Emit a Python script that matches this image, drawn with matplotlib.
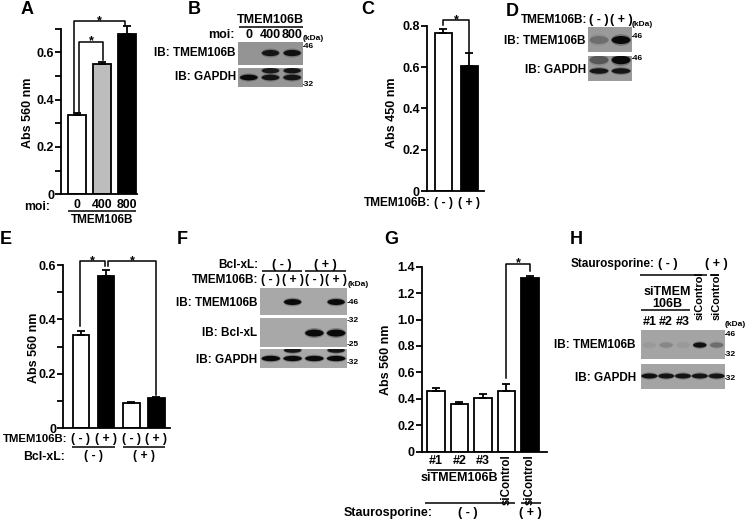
import numpy as np
import matplotlib
matplotlib.use('Agg')
import matplotlib.pyplot as plt
from matplotlib.patches import Ellipse

W, H = 745, 523
plt.rcParams['font.family'] = ['Liberation Sans', 'DejaVu Sans']
plt.rcParams['font.weight'] = 'bold'
plt.rcParams['axes.linewidth'] = 1.3

# ---- data ----
a_moi = ['0', '400', '800']
a_abs = [0.335, 0.549, 0.677]
a_err = [0.007, 0.011, 0.035]
a_colors = ['white', '#bdbdbd', 'black']

b_lanes = ['0', '400', '800']
b_tmem = [0.0, 0.9, 0.95]
b_gapdh_up = [0.0, 0.85, 0.9]
b_gapdh = [1.0, 0.9, 0.9]

c_groups = ['( - )', '( + )']
c_abs = [0.763, 0.606]
c_err = [0.021, 0.060]

d_lanes = ['( - )', '( + )']
d_tmem = [0.25, 1.0]
d_gapdh_up = [0.4, 1.0]
d_gapdh = [0.9, 0.9]

e_tmem = ['( - )', '( + )', '( - )', '( + )']
e_bcl = ['( - )', '( + )']
e_abs = [0.343, 0.561, 0.093, 0.111]
e_err = [0.015, 0.022, 0.002, 0.003]
e_colors = ['white', 'black', 'white', 'black']

f_lanes = ['( - )', '( + )', '( - )', '( + )']
f_tmem = [0.0, 1.0, 0.0, 1.0]
f_bclxl = [0.0, 0.0, 1.0, 1.0]
f_gapdh_up = [0.0, 0.9, 0.0, 0.9]
f_gapdh = [1.0, 1.0, 1.0, 1.0]

g_labels = ['#1', '#2', '#3', 'siControl', 'siControl']
g_abs = [0.458, 0.358, 0.408, 0.458, 1.313]
g_err = [0.025, 0.019, 0.032, 0.058, 0.013]
g_colors = ['white', 'white', 'white', 'white', 'black']

h_lanes = ['#1', '#2', '#3', 'siControl', 'siControl']
h_tmem = [0.05, 0.15, 0.05, 0.95, 0.3]
h_gapdh = [0.95, 0.9, 0.9, 0.9, 0.9]

fig = plt.figure(figsize=(W / 100, H / 100), dpi=100)

ov = fig.add_axes([0, 0, 1, 1])
ov.set_xlim(0, W)
ov.set_ylim(H, 0)
ov.axis('off')


def px_axes(x0, y0, x1, y1):
    return fig.add_axes([x0 / W, 1 - y1 / H, (x1 - x0) / W, (y1 - y0) / H])


def ay(ax, ypix):
    b = ax.get_position()
    return ((1 - ypix / H) - b.y0) / b.height


def txt(ax, x, ypix, s, size=8.5, **kw):
    kw.setdefault('ha', 'center')
    kw.setdefault('va', 'center')
    ax.text(x, ay(ax, ypix), s, transform=ax.get_xaxis_transform(),
            fontsize=size, fontweight='bold', clip_on=False, **kw)


def otxt(x, y, s, size=8.5, **kw):
    kw.setdefault('ha', 'center')
    kw.setdefault('va', 'center')
    ov.text(x, y, s, fontsize=size, fontweight='bold', **kw)


def hline(ax, xa, xb, ypix, lw=1.1):
    y = ay(ax, ypix)
    ax.plot([xa, xb], [y, y], transform=ax.get_xaxis_transform(), color='black',
            lw=lw, clip_on=False, solid_capstyle='butt')


def bar_panel(box, vals, errs, colors, width, xlim, ymax, step, labels):
    ax = px_axes(*box)
    x = np.arange(len(vals))
    ax.bar(x, vals, width, color=colors, edgecolor='black', linewidth=1.3, zorder=2)
    ax.errorbar(x, vals, yerr=[np.zeros(len(vals)), errs], fmt='none', ecolor='black',
                elinewidth=1.3, capsize=3.2, capthick=1.3, zorder=3, clip_on=False)
    ax.set_xlim(*xlim)
    ax.set_ylim(0, ymax)
    ax.set_yticks(np.arange(0, ymax + step / 2, step))
    ax.set_yticklabels(labels)
    ax.tick_params(axis='y', length=4, width=1.3, labelsize=9, pad=1)
    ax.set_xticks([])
    ax.spines[['top', 'right']].set_visible(False)
    ax.patch.set_alpha(0)
    return ax


def bracket(ax, x1, x2, y1, top, y2):
    ax.plot([x1, x1, x2, x2], [y1, top, top, y2], color='black', lw=1.1,
            clip_on=False, zorder=4)
    ax.text((x1 + x2) / 2, top, '*', ha='center', va='center', fontsize=9,
            fontweight='bold', clip_on=False)


def blot(box, rows, bg):
    n = len(rows[0][0])
    ax = px_axes(*box)
    ax.set_xlim(0.5, n + 0.5)
    ax.set_ylim(0, 1)
    ax.set_facecolor(bg)
    ax.set_xticks([])
    ax.set_yticks([])
    for s in ax.spines.values():
        s.set_visible(False)
    for inten, yc, hb, wb in rows:
        for i, v in enumerate(inten):
            if v <= 0:
                continue
            ax.add_patch(Ellipse((i + 1, yc), wb * 1.08, hb * 1.45, color='#202020',
                                 alpha=v * 0.3, lw=0))
            ax.add_patch(Ellipse((i + 1, yc), wb, hb, color='#0a0a0a',
                                 alpha=v, lw=0))
    return ax


# ---------------- A ----------------
ax = bar_panel((61, 28.6, 137, 194.3), a_abs, a_err, a_colors, 0.72, (-0.64, 2.4),
               0.7, 0.1, ['0', '', '0.2', '', '0.4', '', '0.6', ''])
bracket(ax, 0.09, 1.03, 0.349, 0.645, 0.567)
bracket(ax, -0.12, 1.92, 0.349, 0.733, 0.715)
for i, s in enumerate(a_moi):
    txt(ax, i, 205, s, size=8.8)
otxt(37, 206.5, 'moi:', size=8.8)
hline(ax, -0.36, 2.36, 211)
txt(ax, 1, 219.5, 'TMEM106B')
otxt(28, 113, 'Abs 560 nm', size=9, rotation=90)

# ---------------- B ----------------
b1 = blot((238, 42, 303, 65), [(b_tmem, 0.52, 0.27, 0.8)], '#949494')
b2 = blot((238, 68, 303, 87), [(b_gapdh_up, 0.86, 0.28, 0.8),
                               (b_gapdh, 0.5, 0.3, 0.82)], '#969696')
txt(b1, 2, 20, 'TMEM106B', size=9)
hline(b1, 0.55, 3.5, 26.5)
otxt(235, 35, 'moi:', size=9, ha='right')
for i, s in enumerate(b_lanes):
    txt(b1, i + 1, 35, s, size=9)
otxt(303, 39, '(kDa)', size=6, ha='left')
otxt(302, 46, '-46', size=6, ha='left')
otxt(302, 84, '-32', size=6, ha='left')
otxt(236, 53, 'IB: TMEM106B', ha='right')
otxt(236, 77, 'IB: GAPDH', ha='right')

# ---------------- C ----------------
ax = bar_panel((426.7, 25.7, 484, 191), c_abs, c_err, ['white', 'black'], 0.65,
               (-0.64, 1.57), 0.8, 0.2, ['0', '0.2', '0.4', '0.6', '0.8'])
bracket(ax, 0.0, 0.99, 0.803, 0.827, 0.674)
for i, s in enumerate(c_groups):
    txt(ax, i, 203, s, size=8.8)
otxt(431, 203.5, 'TMEM106B:', size=8.6, ha='right')
otxt(392, 113, 'Abs 450 nm', size=9, rotation=90)

# ---------------- D ----------------
d1 = blot((588, 27, 632, 52), [(d_tmem, 0.48, 0.32, 0.85)], '#9a9a9a')
d2 = blot((588, 56, 632, 81), [(d_gapdh_up, 0.84, 0.34, 0.85),
                               (d_gapdh, 0.4, 0.22, 0.85)], '#9a9a9a')
otxt(587, 20, 'TMEM106B:', ha='right')
for i, s in enumerate(d_lanes):
    txt(d1, i + 1, 20, s, size=9)
otxt(632, 25, '(kDa)', size=6, ha='left')
otxt(631, 37, '-46', size=6, ha='left')
otxt(631, 58, '-46', size=6, ha='left')
otxt(586, 41, 'IB: TMEM106B', ha='right')
otxt(586, 70, 'IB: GAPDH', ha='right')

# ---------------- E ----------------
ax = bar_panel((63.3, 265, 170, 428.3), e_abs, e_err, e_colors, 0.67, (-0.706, 3.55),
               0.6, 0.1, ['0', '', '0.2', '', '0.4', '', '0.6'])
bracket(ax, -0.04, 0.96, 0.377, 0.615, 0.595)
bracket(ax, 1.08, 3.0, 0.595, 0.615, 0.123)
for i, s in enumerate(e_tmem):
    txt(ax, i, 439, s, size=8.8)
hline(ax, -0.34, 1.34, 447.5)
hline(ax, 1.66, 3.34, 447.5)
for i, s in enumerate(e_bcl):
    txt(ax, 2 * i + 0.5, 456.5, s, size=8.8)
otxt(67, 439.5, 'TMEM106B:', size=8.2, ha='right')
otxt(65, 456.5, 'Bcl-xL:', size=8.8, ha='right')
otxt(34, 348, 'Abs 560 nm', size=9, rotation=90)

# ---------------- F ----------------
f1 = blot((260, 288, 347, 315), [(f_tmem, 0.48, 0.22, 0.8)], '#a8a8a8')
f2 = blot((260, 318, 347, 347), [(f_bclxl, 0.48, 0.24, 0.85)], '#a8a8a8')
f3 = blot((260, 349, 347, 368), [(f_gapdh_up, 0.93, 0.26, 0.8),
                                 (f_gapdh, 0.5, 0.28, 0.85)], '#a8a8a8')
otxt(258, 265, 'Bcl-xL:', ha='right')
otxt(258, 280, 'TMEM106B:', ha='right')
for i, s in enumerate(e_bcl):
    txt(f1, 2 * i + 1.5, 265, s, size=9)
hline(f1, 0.6, 2.45, 270.5)
hline(f1, 2.55, 4.45, 270.5)
for i, s in enumerate(f_lanes):
    txt(f1, i + 1, 280, s, size=8.8)
otxt(348, 285, '(kDa)', size=6, ha='left')
for yy, s in [(302, '-46'), (320, '-32'), (344, '-25'), (363, '-32')]:
    otxt(347, yy, s, size=6, ha='left')
otxt(257, 303, 'IB: TMEM106B', ha='right')
otxt(257, 333, 'IB: Bcl-xL', ha='right')
otxt(257, 360, 'IB: GAPDH', ha='right')

# ---------------- G ----------------
ax = bar_panel((421.7, 266.7, 547, 451.7), g_abs, g_err, g_colors, 0.74, (-0.6, 4.72),
               1.4, 0.2, ['0', '0.2', '0.4', '0.6', '0.8', '1.0', '1.2', '1.4'])
bracket(ax, 3.0, 4.0, 0.555, 1.424, 1.37)
for i, s in enumerate(g_labels):
    if s.startswith('#'):
        txt(ax, i, 461, s, size=9)
    else:
        txt(ax, i, 454, s, size=8.3, rotation=90, va='top')
hline(ax, -0.37, 2.37, 469.5)
txt(ax, 1, 478, 'siTMEM106B', size=9)
hline(ax, -0.45, 3.37, 503)
hline(ax, 3.6, 4.45, 503)
txt(ax, 1.37, 513, '( - )', size=9)
txt(ax, 4, 513, '( + )', size=9)
otxt(433, 513, 'Staurosporine:', size=9, ha='right')
otxt(386, 360, 'Abs 560 nm', size=9, rotation=90)

# ---------------- H ----------------
h1 = blot((641, 330, 725, 359), [(h_tmem, 0.48, 0.18, 0.8)], '#a4a4a4')
h2 = blot((641, 364, 725, 389), [(h_gapdh, 0.52, 0.2, 0.95)], '#a4a4a4')
otxt(655, 264, 'Staurosporine:', ha='right')
txt(h1, 2.1, 264, '( - )', size=9)
txt(h1, 5.0, 264, '( + )', size=9)
hline(h1, 0.44, 4.43, 275)
hline(h1, 4.6, 5.14, 275)
txt(h1, 2.04, 298, 'siTMEM\n106B', size=9, linespacing=0.95)
hline(h1, 0.5, 3.42, 310)
for i, s in enumerate(h_lanes):
    if s.startswith('#'):
        txt(h1, i + 1, 322, s, size=9)
    else:
        txt(h1, i + 1, 320, s, size=7.9, rotation=90, va='bottom')
otxt(725, 325, '(kDa)', size=6, ha='left')
for yy, s in [(335, '-46'), (355, '-32'), (378, '-32')]:
    otxt(724, yy, s, size=6, ha='left')
otxt(636, 345, 'IB: TMEM106B', ha='right')
otxt(636, 378, 'IB: GAPDH', ha='right')

# panel letters
for s, x, y in [('A', 27, 10), ('B', 194, 9), ('C', 368, 9), ('D', 512, 12),
                ('E', 6, 240), ('F', 182, 240), ('G', 391, 240), ('H', 576, 240)]:
    otxt(x, y, s, size=13)

fig.savefig('out.png', dpi=100)
